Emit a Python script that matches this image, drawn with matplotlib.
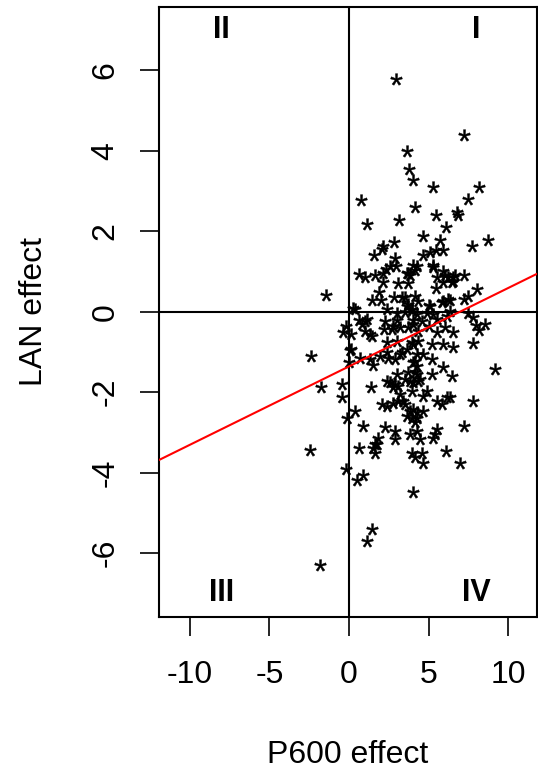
import matplotlib
matplotlib.use("Agg")
import matplotlib.pyplot as plt
import numpy as np
from matplotlib.textpath import TextPath
from matplotlib.font_manager import FontProperties
from matplotlib.path import Path

plt.rcParams['font.family'] = ['Liberation Sans', 'DejaVu Sans']
plt.rcParams['axes.unicode_minus'] = False

# P600 effect (x) and LAN effect (y) per participant
p600 = [2.97, 7.24, 3.66, 3.77, 4.00, 5.25, 8.18, 0.73, 7.49, 4.14, 5.44, 6.76, 6.86,
        1.13, 3.14, 6.07, 4.67, 8.71, 7.74, 5.71, 2.81, 2.15, 2.05, 1.59, 4.67, 5.08,
        5.46, 5.92, 2.89, 2.95, 4.29, 5.25, 2.30, 0.63, 1.00, 1.63, 2.15, 3.68, 4.14,
        5.88, 6.03, 6.55, 7.24, 5.50, 2.57, 4.04, 3.62, 3.83, 5.29, 6.23, 6.65,
        -1.44, 2.15, 3.06, 3.72, 5.46, 6.55, 1.90, 1.42, 2.01, 2.85, 3.52, 4.14, 3.72,
        5.04, 5.86, 6.34, 7.24, 7.49, 8.02, 0.27, 2.37, 3.03, 3.94, 4.29, 4.88, 6.34,
        7.45, 0.63, 1.00, 0.80, 2.26, 2.99, 4.00, 5.50, 6.13, 7.80, 7.97, 8.54, 8.16,
        -0.21, -0.36, 0.10, 1.00, 1.42, 2.20, 2.72, 3.20, 3.72, 4.35, 5.04, 5.50, 6.03,
        6.55, 5.23, 5.92, 6.51, 7.76, 0.13, 2.37, 2.99, 3.94, 4.35, 3.30, 4.35, 3.62,
        3.94, 3.52, 5.08, 5.92, 6.23, 5.92, 6.45, 0.38, 1.11, 1.32, 2.78, 4.04, 4.56,
        5.29, -2.39, -1.78, -0.46, -0.46, 0.06, 0.00, 0.38, -0.15, 0.69, 1.32, 1.53,
        1.95, 2.37, 2.89, 3.20, 3.62, 4.25, 4.67, 5.19, 4.04, 5.92, 6.45, 5.19, 4.14,
        3.72, 2.99, 9.17, 1.38, 2.37, 2.57, 2.89, 2.78, 3.10, 3.52, 4.04, 4.46, 3.94,
        4.88, 4.67, 3.20, 3.41, 5.50, 6.13, 6.34, 5.82, 7.76, 2.05, 2.37, 2.78, 3.10,
        3.52, 3.83, 4.04, 4.25, 4.67, 3.62, 3.94, 2.47, 3.31, 4.04, 4.25, 4.14, 4.25,
        3.83, 4.35, -2.45, 0.90, 0.65, -0.21, 0.86, 0.48, 2.26, 2.89, 2.89, 1.84, 1.63,
        1.53, 1.74, 1.63, 3.83, 4.25, 4.14, 4.25, 4.46, 5.50, 5.40, 5.29, 7.24, 6.07,
        6.97, 3.94, 4.14, 4.56, 4.67, 4.00, 1.46, 1.15, -1.82]
lan = [5.79, 4.38, 4.00, 3.55, 3.28, 3.09, 3.09, 2.78, 2.79, 2.60, 2.41, 2.47, 2.39,
       2.18, 2.28, 2.11, 1.89, 1.78, 1.62, 1.77, 1.74, 1.64, 1.56, 1.42, 1.42, 1.48,
       1.52, 1.54, 1.34, 1.14, 1.14, 1.12, 1.06, 0.94, 0.87, 0.90, 0.95, 0.95, 1.04,
       1.00, 0.90, 0.85, 0.90, 0.85, 1.14, 1.15, 0.95, 0.91, 1.15, 0.86, 0.91,
       0.42, 0.73, 0.70, 0.70, 0.60, 0.77, 0.48, 0.30, 0.29, 0.37, 0.36, 0.40, 0.19,
       0.17, 0.23, 0.29, 0.32, 0.38, 0.56, 0.08, 0.07, -0.04, 0.04, -0.06, -0.04, 0.02,
       -0.04, -0.20, -0.22, -0.31, -0.22, -0.21, -0.21, -0.18, -0.12, -0.14, -0.32,
       -0.31, -0.46, -0.35, -0.51, -0.56, -0.47, -0.60, -0.43, -0.43, -0.39, -0.39,
       -0.47, -0.35, -0.51, -0.37, -0.51, -0.80, -0.80, -0.87, -0.79, -0.93, -0.76,
       -0.72, -0.76, -0.74, 0.36, 0.27, 0.15, 0.07, -0.02, 0.15, 0.27, 0.32, 0.73,
       0.73, 0.07, -0.18, -0.55, -0.35, -0.31, -0.22, -0.06, -1.11, -1.86, -1.80,
       -2.13, -0.95, -1.26, -2.46, -2.64, -1.14, -1.18, -1.32, -1.09, -1.01, -1.18,
       -1.05, -0.93, -1.04, -1.05, -1.18, -1.26, -1.37, -1.59, -1.55, -1.51, -1.51,
       -1.55, -1.43, -1.88, -1.72, -1.76, -1.80, -1.88, -1.84, -1.67, -1.76, -1.67,
       -1.97, -1.97, -2.09, -2.05, -2.21, -2.21, -2.13, -2.13, -2.30, -2.23, -2.30,
       -2.34, -2.26, -2.21, -2.30, -2.46, -2.42, -2.50, -2.46, -2.59, -2.64, -1.14,
       -1.01, -0.80, -1.34, -1.22, -1.55, -1.72, -1.72, -3.44, -2.84, -3.38, -3.91,
       -4.05, -4.18, -2.86, -2.96, -3.17, -3.13, -3.29, -3.38, -3.29, -3.50, -3.04,
       -2.96, -2.75, -2.63, -3.17, -2.92, -3.04, -3.14, -2.84, -3.46, -3.75, -3.50,
       -3.62, -3.50, -3.75, -4.48, -5.41, -5.70, -6.29]

# fitted regression line (LAN = intercept + slope * P600)
fit_intercept = -1.36
fit_slope = 0.195

x_ticks = [-10, -5, 0, 5, 10]
y_ticks = [-6, -4, -2, 0, 2, 4, 6]
quadrants = ["I", "II", "III", "IV"]

fig = plt.figure(figsize=(5.38, 7.73), dpi=100)
ax = fig.add_axes([0.2961, 0.2022, 0.7015, 0.7887])

xlim = (-11.91, 11.78)
ylim = (-7.58, 7.57)
ax.set_xlim(*xlim)
ax.set_ylim(*ylim)

# asterisk glyph used as point marker (outline polygons, centred on the point)
star = TextPath((0, 0), "*", prop=FontProperties(family="Liberation Sans"))
polys = star.to_polygons()
allpts = np.vstack(polys)
centre = (allpts.min(axis=0) + allpts.max(axis=0)) / 2
star_marker = Path.make_compound_path(*[Path(p - centre, closed=True) for p in polys])

ax.axhline(0, color="black", lw=1.5, zorder=1)
ax.axvline(0, color="black", lw=1.5, zorder=1)

ax.plot(p600, lan, linestyle="none", marker=star_marker, markersize=8.5,
        color="black", markeredgewidth=0.3, zorder=3)

xs = np.array(xlim)
ax.plot(xs, fit_intercept + fit_slope * xs, color="#ff0000", lw=1.5, zorder=4)

qpos = {"I": (8, 7), "II": (-8, 7), "III": (-8, -7), "IV": (8, -7)}
for q in quadrants:
    qx, qy = qpos[q]
    ax.text(qx, qy, q, ha="center", va="center", fontsize=22, fontweight="bold")

ax.set_xticks(x_ticks)
ax.set_xticklabels([str(v) for v in x_ticks])
ax.set_yticks(y_ticks)
ax.set_yticklabels([str(v) for v in y_ticks], rotation=90, va="center")

ax.tick_params(axis="both", length=14, width=1.2, labelsize=23, direction="out")
ax.tick_params(axis="x", pad=17)
ax.tick_params(axis="y", pad=14)

for sp in ax.spines.values():
    sp.set_linewidth(1.5)

ax.set_xlabel("P600 effect", fontsize=23, labelpad=36)
ax.set_ylabel("LAN effect", fontsize=23, labelpad=30)

fig.savefig("out.png", dpi=100)
